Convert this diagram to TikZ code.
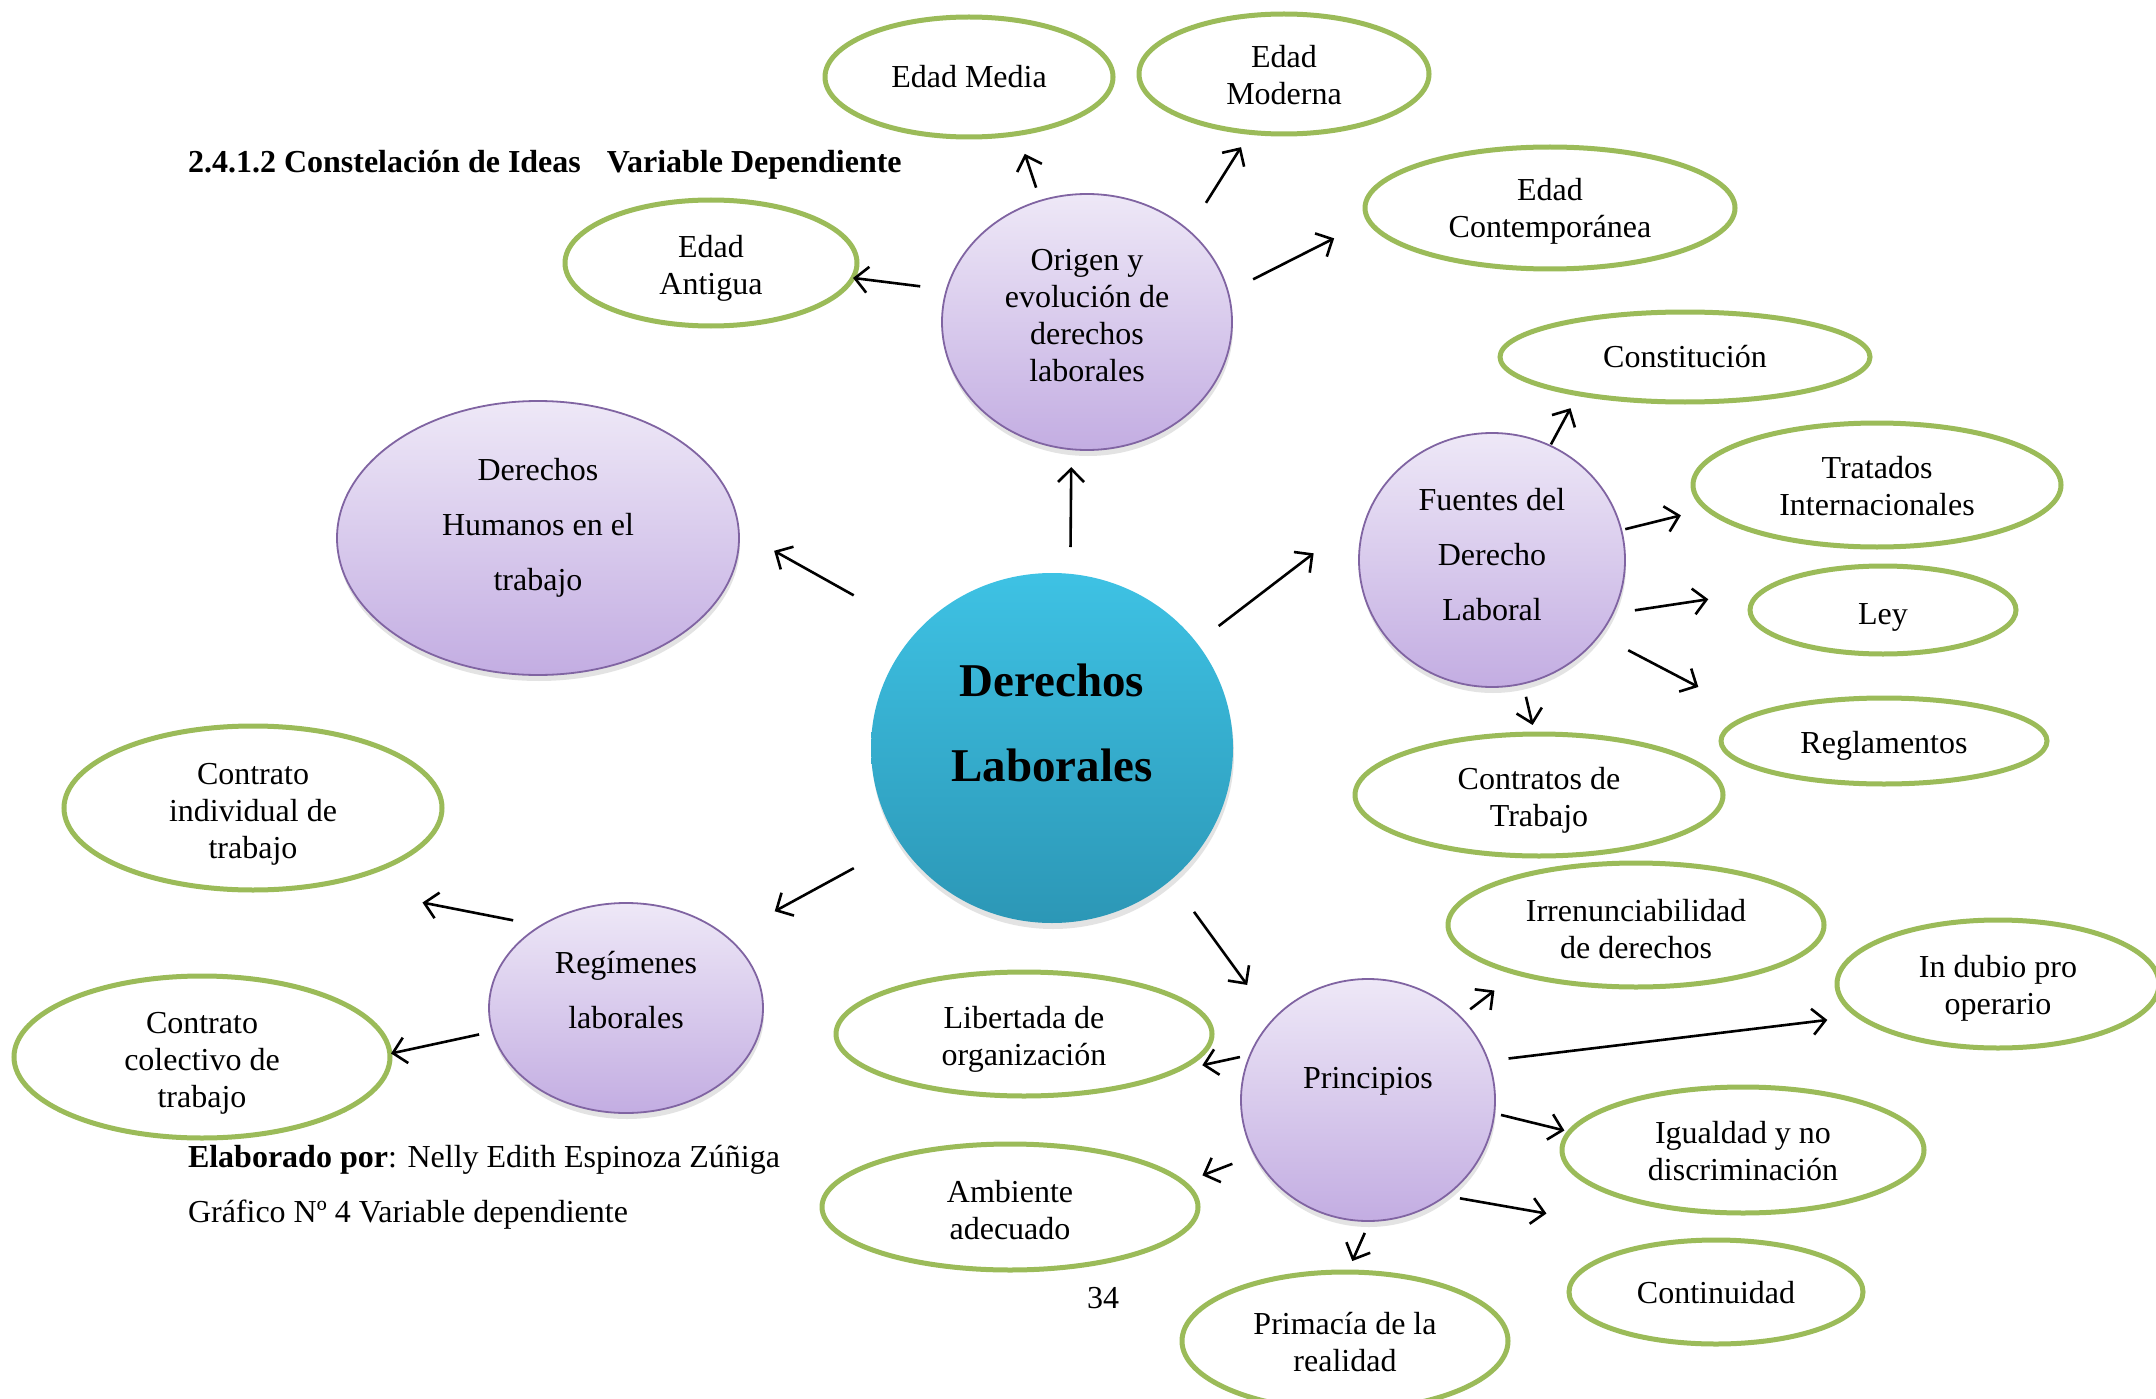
\documentclass[tikz,border=0pt]{standalone}
\usepackage{fontspec}
\setmainfont{Liberation Serif}
\usetikzlibrary{shapes.geometric,arrows.meta,shadows}
\definecolor{grn}{HTML}{9BBB59}
\definecolor{purb}{HTML}{8064A2}
\definecolor{purt}{HTML}{EEE8F7}
\definecolor{purbt}{HTML}{C3ADE2}
\definecolor{cyt}{HTML}{3EC2E4}
\definecolor{cyb}{HTML}{2C97B6}
\newcommand\lowr[1]{\rule{0pt}{#1pt}}
\begin{document}
\begin{tikzpicture}[x=1pt,y=-1pt,
 every node/.style={inner sep=0pt, outer sep=0pt},
 txt/.style={font=\fontsize{32}{37}\selectfont, align=center},
 wide/.style={font=\fontsize{32}{55}\selectfont},
 gell/.style={ellipse, draw=grn, line width=5pt, fill=white, txt},
 pell/.style={ellipse, draw=purb, line width=1.8pt, top color=purt, bottom color=purbt,
   drop shadow={shadow xshift=1pt, shadow yshift=-6pt, opacity=0.22}, txt},
 arr/.style={line width=2.6pt, -{Straight Barb[length=13pt,width=26pt]}},
]
\useasboundingbox (0,0) rectangle (2156,1399);
\fill[white] (0,0) rectangle (2156,1399);

% central node
\node[pell, draw=none, top color=cyt, bottom color=cyb, minimum width=362pt, minimum height=350pt,
  font=\bfseries\fontsize{47}{85}\selectfont, text depth=51pt] (ctr) at (1052,748) {Derechos\\Laborales};

% purple nodes
\node[pell, minimum width=290pt, minimum height=256pt, text depth=13.4pt] (orig) at (1087,322) {Origen y\\evolución de\\derechos\\laborales};
\node[pell, wide, minimum width=402pt, minimum height=274pt, text depth=27.4pt] (dh) at (538,538) {Derechos\\Humanos en el\\trabajo};
\node[pell, wide, minimum width=266pt, minimum height=254pt, text depth=11.4pt] (fu) at (1492,560) {Fuentes del\\Derecho\\Laboral};
\node[pell, wide, minimum width=274pt, minimum height=210pt, text depth=35.4pt] (reg) at (626,1008) {Regímenes\\laborales};
\node[pell, minimum width=254pt, minimum height=242pt, text depth=43.4pt] (pri) at (1368,1100) {Principios};

% green nodes
\node[gell, minimum width=288pt, minimum height=120pt] (em) at (969,77) {Edad Media};
\node[gell, minimum width=290pt, minimum height=120pt] (emo) at (1284,74) {\lowr{25}Edad\\Moderna};
\node[gell, minimum width=370pt, minimum height=122pt] (ec) at (1550,208) {\lowr{29}Edad\\Contemporánea};
\node[gell, minimum width=292pt, minimum height=126pt] (ea) at (711,263) {\lowr{33}Edad\\Antigua};
\node[gell, minimum width=370pt, minimum height=90pt] (con) at (1685,357) {Constitución};
\node[gell, minimum width=368pt, minimum height=124pt] (tra) at (1877,485) {\lowr{24}Tratados\\Internacionales};
\node[gell, minimum width=266pt, minimum height=88pt] (ley) at (1883,610) {\lowr{35}Ley};
\node[gell, minimum width=326pt, minimum height=86pt] (rgl) at (1884,741) {\lowr{32}Reglamentos};
\node[gell, minimum width=368pt, minimum height=122pt] (ct) at (1539,795) {\lowr{32}Contratos de\\Trabajo};
\node[gell, minimum width=376pt, minimum height=124pt] (irr) at (1636,925) {\lowr{30}Irrenunciabilidad\\de derechos};
\node[gell, minimum width=322pt, minimum height=128pt] (ind) at (1998,984) {\lowr{30}In dubio pro\\operario};
\node[gell, minimum width=376pt, minimum height=124pt] (lib) at (1024,1034) {\lowr{33}Libertada de\\organización};
\node[gell, minimum width=362pt, minimum height=126pt] (igu) at (1743,1150) {\lowr{25}Igualdad y no\\discriminación};
\node[gell, minimum width=376pt, minimum height=126pt] (amb) at (1010,1207) {\lowr{27.5}Ambiente\\adecuado};
\node[gell, minimum width=294pt, minimum height=104pt] (cont) at (1716,1292) {\lowr{23.5}Continuidad};
\node[gell, minimum width=326pt, minimum height=138pt] (prim) at (1345,1341) {\lowr{25}Primacía de la\\realidad};
\node[gell, minimum width=378pt, minimum height=164pt] (ci) at (253,808) {\lowr{33}Contrato\\individual de\\trabajo};
\node[gell, minimum width=376pt, minimum height=162pt] (cc) at (202,1057) {\lowr{33}Contrato\\colectivo de\\trabajo};

% free texts
\node[anchor=base west, font=\bfseries\fontsize{32}{37}\selectfont] (title) at (188,173) {2.4.1.2 Constelación de Ideas\hspace{26pt}Variable Dependiente};
\node[anchor=base west, font=\fontsize{32}{37}\selectfont] (elab) at (188,1167) {\textbf{Elaborado por}: Nelly Edith Espinoza Zúñiga};
\node[anchor=base west, font=\fontsize{32}{37}\selectfont] (graf) at (188,1222) {Gráfico Nº 4 Variable dependiente};
\node[anchor=base, font=\fontsize{32}{37}\selectfont] (pg) at (1103,1308) {34};

% connectors
\draw[arr, shorten <=26.9pt, shorten >=17.9pt] (ctr.84) -- (orig.-97.6);
\draw[arr, shorten <=73pt, shorten >=40.6pt] (ctr.139.4) -- (dh.2.5);
\draw[arr, shorten <=27.7pt, shorten >=70.4pt] (ctr.36) -- (fu.158.2);
\draw[arr, shorten <=52.6pt, shorten >=54.2pt] (ctr.-148.7) -- (reg.35.1);
\draw[arr, shorten <=39.4pt, shorten >=43.4pt] (ctr.-48.9) -- (pri.140);
\draw[arr, shorten <=13.8pt, shorten >=21.5pt] (orig.111.5) -- (em.-49.4);
\draw[arr, shorten <=32.8pt, shorten >=17.5pt] (orig.42.6) -- (emo.-120.7);
\draw[arr, shorten <=28.2pt, shorten >=39.1pt] (orig.12.1) -- (ec.-176.1);
\draw[arr, shorten <=26.7pt, shorten >=0.2pt] (orig.167.4) -- (ea.-6);
\draw[arr, shorten <=1.6pt, shorten >=16.4pt] (fu.63.4) -- (con.-161.4);
\draw[arr, shorten <=4.1pt, shorten >=27.1pt] (fu.13.5) -- (tra.-172.6);
\draw[arr, shorten <=22.6pt, shorten >=55.4pt] (fu.-24.8) -- (ley.171.9);
\draw[arr, shorten <=32.7pt, shorten >=61.5pt] (fu.-35.9) -- (rgl.169.8);
\draw[arr, shorten <=13.6pt, shorten >=9.3pt] (fu.-76.5) -- (ct.94.4);
\draw[arr, shorten <=28.2pt, shorten >=98.3pt] (reg.136.7) -- (ci.-46.2);
\draw[arr, shorten <=13.7pt, shorten >=1.2pt] (reg.-170.2) -- (cc.1.1);
\draw[arr, shorten <=12.5pt, shorten >=28.7pt] (pri.42.8) -- (irr.-158.7);
\draw[arr, shorten <=20.5pt, shorten >=31.7pt] (pri.18.8) -- (ind.-167.5);
\draw[arr, shorten <=10.5pt, shorten >=29pt] (pri.159) -- (lib.-14.6);
\draw[arr, shorten <=7pt, shorten >=5.5pt] (pri.-6) -- (igu.174.6);
\draw[arr, shorten <=24.2pt, shorten >=20.4pt] (pri.-154) -- (amb.8.8);
\draw[arr, shorten <=14.6pt, shorten >=155.1pt] (pri.-51.6) -- (cont.108.4);
\draw[arr, shorten <=13.1pt, shorten >=12pt] (pri.-89.5) -- (prim.88);
\end{tikzpicture}
\end{document}
